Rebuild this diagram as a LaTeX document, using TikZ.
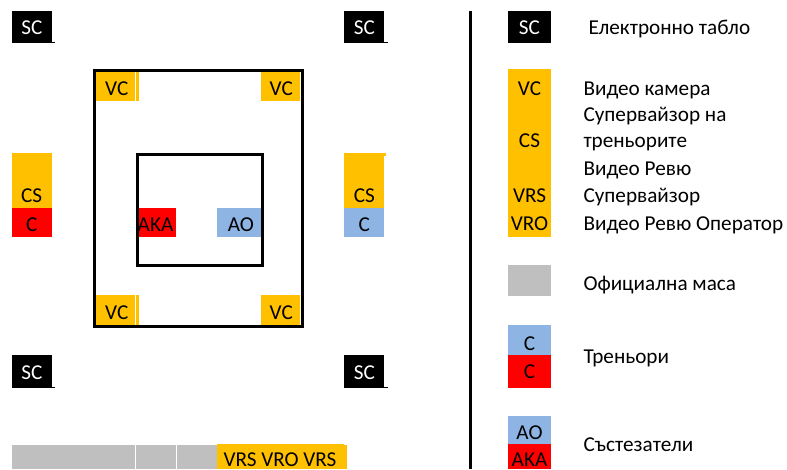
\documentclass[tikz,border=0pt]{standalone}
\usepackage{fontspec}
\setmainfont{Carlito}
\definecolor{camgold}{HTML}{FFC000}
\definecolor{akared}{HTML}{FF0000}
\definecolor{aoblue}{HTML}{8EB4E3}
\definecolor{tablegray}{HTML}{BFBFBF}
\tikzset{
  lbl/.style={anchor=base,inner sep=0pt,font=\fontsize{21.2}{25}\selectfont},
  txt/.style={anchor=base west,inner sep=0pt,font=\fontsize{21.2}{25}\selectfont},
}
\begin{document}
\begin{tikzpicture}[x=1pt,y=-1pt]
\useasboundingbox (0,0) rectangle (787,469);
\clip (0,0) rectangle (787,469);

% score boards
\fill[color=black] (12,11) rectangle (52,42.7);
\fill[color=black] (52,41.5) rectangle (55,42.7);
\fill[color=black] (344,11) rectangle (384,42.7);
\fill[color=black] (384,41.5) rectangle (388,42.7);
\fill[color=black] (12,355) rectangle (52,387.7);
\fill[color=black] (52,386.5) rectangle (55,387.7);
\fill[color=black] (344,355) rectangle (384,387.7);
\fill[color=black] (384,386.5) rectangle (388,387.7);

% cameras
\fill[color=camgold] (96.3,72) rectangle (139,100.7);
\fill[color=white] (135,72) rectangle (136,100.7);
\fill[color=camgold] (261,72) rectangle (300,100.7);
\fill[color=camgold] (96.3,295) rectangle (139,324.7);
\fill[color=white] (135,295) rectangle (136,324.7);
\fill[color=camgold] (261,295) rectangle (300,324.7);

% coaches
\fill[color=camgold] (12,153) rectangle (52,207.7);
\fill[color=akared] (12,207.7) rectangle (52,236.7);
\fill[color=camgold] (344,153) rectangle (384,207.7);
\fill[color=camgold] (384,153) rectangle (386,155.7);
\fill[color=aoblue] (344,207.7) rectangle (384,236.7);

% competitors
\fill[color=akared] (139,207.7) rectangle (176,236.7);
\fill[color=aoblue] (217,207.7) rectangle (261,236.7);

% official table
\fill[color=tablegray] (12,445) rectangle (135,469);
\fill[color=tablegray] (136,445) rectangle (176,469);
\fill[color=tablegray] (177,445) rectangle (217,469);
\fill[color=camgold] (217,444) rectangle (344,469);
\fill[color=camgold] (344,445) rectangle (346.7,469);

% area
\draw[line width=3] (94.8,70.7) rectangle (302.3,326.2);
\draw[line width=3] (137.5,154.8) rectangle (262.5,265.8);

\node[lbl,text=white] (sc-tl) at (32,34.3) {SC};
\node[lbl,text=white] (sc-tr) at (364.3,34.3) {SC};
\node[lbl,text=white] (sc-bl) at (32,379.3) {SC};
\node[lbl,text=white] (sc-br) at (364.3,379.3) {SC};
\node[lbl] (vc-tl) at (116.8,95) {VC};
\node[lbl] (vc-tr) at (281.3,95) {VC};
\node[lbl] (vc-bl) at (116.8,319.3) {VC};
\node[lbl] (vc-br) at (281.3,319.3) {VC};
\node[lbl] (cs-l) at (31.7,202) {CS};
\node[lbl] (c-l) at (31.7,231.7) {C};
\node[lbl] (cs-r) at (364.3,202) {CS};
\node[lbl] (c-r) at (364.3,231.7) {C};
\node[lbl] (aka) at (155.5,231.7) {AKA};
\node[lbl] (ao) at (240.8,231.7) {AO};
\node[lbl] (vr) at (280,466.3) {VRS VRO VRS};

% legend
\draw[line width=3] (470.5,11) -- (470.5,469);

\fill[color=black] (508,11) rectangle (551,42.7);
\fill[color=camgold] (508,69) rectangle (551,236.7);
\fill[color=tablegray] (508,265) rectangle (551,295.7);
\fill[color=aoblue] (508,325) rectangle (551,355);
\fill[color=akared] (508,355) rectangle (551,387.7);
\fill[color=aoblue] (508,416) rectangle (551,444);
\fill[color=akared] (508,444) rectangle (551,469);

\node[lbl,text=white] (key-sc) at (529.5,34.3) {SC};
\node[lbl] (key-vc) at (529.5,95) {VC};
\node[lbl] (key-cs) at (529.5,147) {CS};
\node[lbl] (key-vrs) at (529.5,202.3) {VRS};
\node[lbl] (key-vro) at (529.5,230.7) {VRO};
\node[lbl] (key-cb) at (529.5,350) {C};
\node[lbl] (key-cr) at (529.5,378.3) {C};
\node[lbl] (key-ao) at (529.5,439.3) {AO};
\node[lbl] (key-aka) at (529.5,466.7) {AKA};

\node[txt] (t-sc) at (588.3,34.3) {Електронно табло};
\node[txt] (t-vc) at (583.3,95) {Видео камера};
\node[txt] (t-cs1) at (583.3,121.7) {Супервайзор на};
\node[txt] (t-cs2) at (583.3,147) {треньорите};
\node[txt] (t-vrs1) at (583.3,175.7) {Видео Ревю};
\node[txt] (t-vrs2) at (583.3,202.3) {Супервайзор};
\node[txt] (t-vro) at (583.3,230.7) {Видео Ревю Оператор};
\node[txt] (t-table) at (583.3,290) {Официална маса};
\node[txt] (t-coach) at (583.3,363.3) {Треньори};
\node[txt] (t-comp) at (583.3,451.7) {Състезатели};
\end{tikzpicture}
\end{document}
